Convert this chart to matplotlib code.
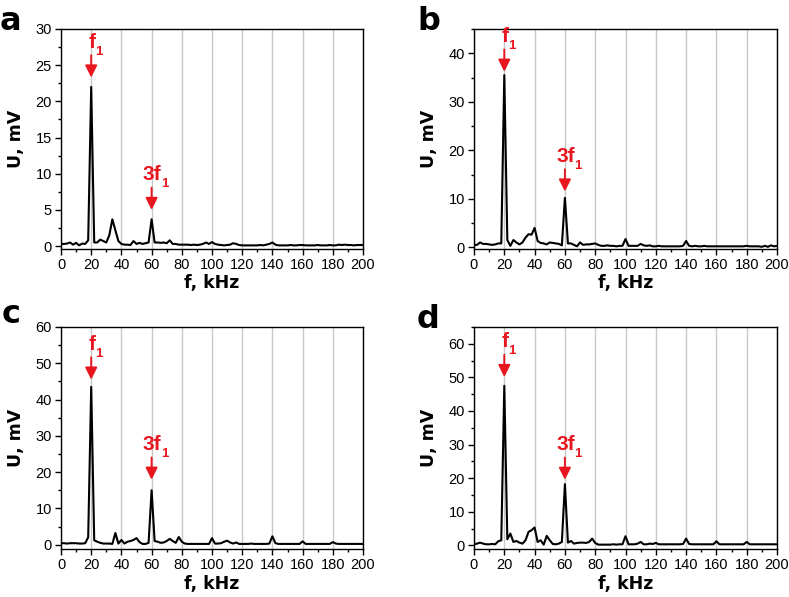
import numpy as np
import matplotlib
matplotlib.use("Agg")
import matplotlib.pyplot as plt
from matplotlib.ticker import MultipleLocator

plt.rcParams['font.family'] = ['Liberation Sans', 'DejaVu Sans']

# frequency grid, kHz
freq = np.arange(0, 201, 2)

u_a = [0.3, 0.3, 0.35, 0.5, 0.2, 0.45, 0.1, 0.35, 0.3, 0.8,
       22.0, 0.5, 0.5, 0.9, 0.7, 0.5, 1.5, 3.7, 2.2, 0.7,
       0.3, 0.2, 0.2, 0.15, 0.7, 0.3, 0.45, 0.3, 0.4, 0.5,
       3.7, 0.5, 0.5, 0.45, 0.5, 0.4, 0.8, 0.3, 0.3, 0.2,
       0.2, 0.2, 0.2, 0.15, 0.2, 0.15, 0.2, 0.3, 0.5, 0.3,
       0.55, 0.3, 0.2, 0.15, 0.1, 0.15, 0.2, 0.4, 0.3, 0.15,
       0.1, 0.1, 0.1, 0.1, 0.1, 0.1, 0.15, 0.1, 0.2, 0.3,
       0.5, 0.2, 0.1, 0.1, 0.1, 0.1, 0.15, 0.1, 0.1, 0.15,
       0.15, 0.1, 0.1, 0.1, 0.1, 0.15, 0.1, 0.1, 0.1, 0.15,
       0.1, 0.1, 0.2, 0.15, 0.2, 0.15, 0.15, 0.1, 0.15, 0.15,
       0.15]

u_b = [0.5, 0.5, 1.0, 0.7, 0.7, 0.6, 0.5, 0.6, 0.8, 0.8,
       35.5, 1.5, 0.3, 1.5, 1.0, 0.6, 1.0, 2.0, 2.7, 2.6,
       4.0, 1.3, 0.9, 0.8, 0.6, 1.0, 0.9, 0.8, 0.7, 0.4,
       10.2, 0.8, 0.8, 0.5, 0.2, 1.0, 0.5, 0.6, 0.6, 0.7,
       0.8, 0.5, 0.3, 0.3, 0.4, 0.3, 0.3, 0.2, 0.3, 0.3,
       1.7, 0.3, 0.3, 0.3, 0.3, 0.7, 0.4, 0.3, 0.4, 0.2,
       0.2, 0.3, 0.2, 0.2, 0.2, 0.2, 0.2, 0.2, 0.2, 0.3,
       1.3, 0.3, 0.2, 0.3, 0.2, 0.2, 0.3, 0.2, 0.2, 0.2,
       0.2, 0.2, 0.2, 0.2, 0.2, 0.2, 0.2, 0.2, 0.2, 0.2,
       0.3, 0.2, 0.2, 0.2, 0.2, 0.1, 0.3, 0.1, 0.4, 0.2,
       0.3]

u_c = [0.4, 0.4, 0.3, 0.4, 0.4, 0.4, 0.3, 0.3, 0.4, 2.0,
       43.5, 1.2, 0.8, 0.5, 0.3, 0.3, 0.3, 0.2, 3.2, 0.3,
       1.3, 0.3, 0.8, 1.0, 1.3, 1.8, 0.7, 0.2, 0.2, 0.5,
       15.0, 1.0, 0.8, 0.5, 0.6, 1.0, 1.6, 1.0, 0.5, 2.1,
       0.8, 0.3, 0.2, 0.2, 0.2, 0.2, 0.2, 0.2, 0.2, 0.2,
       1.8, 0.3, 0.3, 0.4, 0.8, 1.1, 0.6, 0.3, 0.6, 0.2,
       0.2, 0.2, 0.2, 0.3, 0.2, 0.2, 0.2, 0.2, 0.2, 0.3,
       2.3, 0.4, 0.2, 0.2, 0.2, 0.2, 0.2, 0.2, 0.2, 0.2,
       0.9, 0.2, 0.2, 0.2, 0.2, 0.2, 0.2, 0.2, 0.2, 0.2,
       0.7, 0.3, 0.2, 0.2, 0.2, 0.2, 0.2, 0.2, 0.2, 0.2,
       0.2]

u_d = [0.3, 0.5, 0.8, 0.5, 0.3, 0.3, 0.4, 0.3, 1.2, 1.5,
       47.5, 1.8, 3.5, 1.0, 1.3, 0.8, 0.5, 1.5, 4.0, 4.5,
       5.3, 1.0, 1.5, 0.2, 2.8, 1.5, 0.4, 0.3, 0.5, 1.0,
       18.2, 0.8, 1.3, 0.5, 0.7, 0.8, 0.8, 0.7, 1.0, 2.0,
       0.7, 0.2, 0.2, 0.2, 0.2, 0.2, 0.3, 0.2, 0.3, 0.3,
       2.7, 0.3, 0.3, 0.3, 0.5, 1.0, 0.3, 0.3, 0.5, 0.4,
       0.7, 0.3, 0.3, 0.3, 0.3, 0.3, 0.3, 0.3, 0.3, 0.4,
       2.0, 0.4, 0.3, 0.3, 0.3, 0.3, 0.3, 0.3, 0.3, 0.3,
       1.2, 0.3, 0.3, 0.3, 0.3, 0.3, 0.3, 0.3, 0.3, 0.3,
       1.0, 0.3, 0.3, 0.3, 0.3, 0.3, 0.3, 0.3, 0.3, 0.3,
       0.3]

letters = ['a', 'b', 'c', 'd']
spectra = [u_a, u_b, u_c, u_d]
y_max = [30, 45, 60, 65]
y_min = [-0.4, -0.35, -1.2, -1.1]
y_major = [5, 10, 10, 10]
y_top_tick = [30, 40, 60, 60]
# arrow tips (kHz, mV) for f1 and 3f1
tips = [[(20, 23.3), (60, 5.0)],
        [(20, 36.2), (60, 11.5)],
        [(20, 45.5), (60, 17.9)],
        [(20, 50.1), (60, 19.5)]]
peak_labels = ['f', '3f']

W, H = 789, 597
red = '#e8161e'
# axes boxes in pixels: left, top, right, bottom
boxes = [(61, 29, 363, 249), (474, 29, 777, 249),
         (61, 327, 363, 549), (474, 327, 777, 549)]
letter_pos = [(0, 30), (417, 30), (2, 323), (417, 328)]

fig = plt.figure(figsize=(W / 100, H / 100), dpi=100)

for i in range(4):
    l, t, r, b = boxes[i]
    ax = fig.add_axes([l / W, 1 - b / H, (r - l) / W, (b - t) / H])
    ax.plot(freq, spectra[i], color='black', lw=1.5, zorder=3)
    ax.set_xlim(0, 200)
    ax.set_ylim(y_min[i], y_max[i])
    ax.set_xticks(np.arange(0, 201, 20))
    ax.set_yticks(np.arange(0, y_top_tick[i] + 1, y_major[i]))
    ax.xaxis.set_minor_locator(MultipleLocator(10))
    ax.yaxis.set_minor_locator(MultipleLocator(y_major[i] / 2))
    ax.tick_params(which='major', direction='out', length=4, width=1, labelsize=10.5, pad=2.5)
    ax.tick_params(which='minor', direction='out', length=2.5, width=1)
    ax.grid(axis='x', which='major', color='#c8c8c8', lw=1, zorder=0)
    for s in ax.spines.values():
        s.set_linewidth(1)

    ax.set_xlabel('f, kHz', family='DejaVu Sans', fontweight='bold', fontsize=12.5)
    ax.set_ylabel('U, mV', family='DejaVu Sans', fontweight='bold', fontsize=12.5)
    ax.xaxis.set_label_coords(0.5, -0.115)
    ax.yaxis.set_label_coords(-0.12, 0.5)

    # red arrows marking f1 and 3f1
    for (px, py), lab in zip(tips[i], peak_labels):
        ax.annotate('', xy=(px, py), xytext=(0, 16), textcoords='offset points',
                    arrowprops=dict(arrowstyle='-|>,head_length=0.72,head_width=0.36',
                                    mutation_scale=10, color=red, lw=1.4,
                                    shrinkA=0, shrinkB=0), zorder=4)
        main = ax.annotate(lab, xy=(px, py), xytext=(0.5, 21.5), textcoords='offset points',
                           ha='center', va='baseline', color=red, fontsize=15,
                           fontweight='bold', zorder=4)
        ax.annotate('1', xy=(0.95, 0.3), xycoords=main, ha='left', va='top',
                    color=red, fontsize=9.5, fontweight='bold', zorder=4)

    lx, ly = letter_pos[i]
    fig.text(lx / W, 1 - ly / H, letters[i], family='DejaVu Sans', fontweight='bold',
             fontsize=23, ha='left', va='baseline')

plt.savefig('out.png', dpi=100)
